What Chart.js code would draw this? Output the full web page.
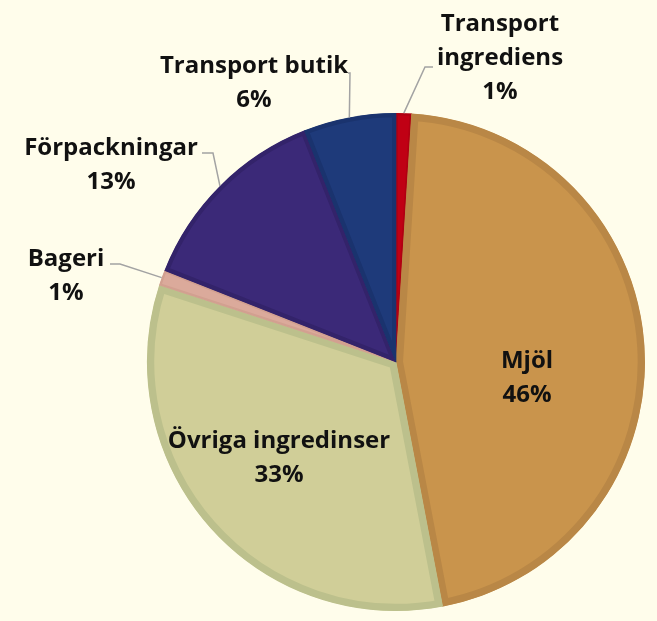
<!DOCTYPE html>
<html>
<head>
<meta charset="utf-8">
<script src="https://cdn.jsdelivr.net/npm/chart.js@4"></script>
<style>
  html, body { margin: 0; padding: 0; background: #fffdeb; }
  #wrap { width: 657px; height: 621px; }
</style>
</head>
<body>
<div id="wrap"><canvas id="c" width="657" height="621"></canvas></div>
<script>
// slices, clockwise from 12 o'clock
const categories = ['Transport ingrediens', 'Mjöl', 'Övriga ingredinser', 'Bageri', 'Förpackningar', 'Transport butik'];
const shares = [1, 46, 33, 1, 13, 6];
const sliceColors = ['#c00014', '#c9944c', '#d0ce98', '#dbaa9b', '#3b2978', '#1e3a7a'];
const edgeColors = ['#b00012', '#b98746', '#bcc08c', '#d2a090', '#33236a', '#1a336e'];

// label lines per slice (name may wrap)
const labelLines = [
  ['Transport', 'ingrediens', '1%'],
  ['Mjöl', '46%'],
  ['Övriga ingredinser', '33%'],
  ['Bageri', '1%'],
  ['Förpackningar', '13%'],
  ['Transport butik', '6%']
];

// where each label sits, relative to the pie centre; elbow = start of leader line
const labelLayout = [
  { x: 104, y: -331, elbow: [[37, -295], [29, -295]] },
  { x: 131, y: 6 },
  { x: -117, y: 86 },
  { x: -330, y: -96, elbow: [[-286, -98], [-276, -98]] },
  { x: -285, y: -207, elbow: [[-194, -209], [-183, -209]] },
  { x: -142, y: -289, elbow: [[-48, -289], [-46, -289]] }
];

const LINE_H = 34;
const FONT = 'bold 24px "Open Sans", "Noto Sans", sans-serif';

const pieLabels = {
  id: 'pieLabels',
  afterDatasetsDraw(chart) {
    const ctx = chart.ctx;
    const meta = chart.getDatasetMeta(0);
    const first = meta.data[0];
    const cx = first.x, cy = first.y, r = first.outerRadius;
    ctx.save();
    meta.data.forEach((arc, i) => {
      const lay = labelLayout[i];
      if (lay.elbow) {
        const mid = (arc.startAngle + arc.endAngle) / 2;
        ctx.strokeStyle = '#a3a3a3';
        ctx.lineWidth = 1.5;
        ctx.beginPath();
        ctx.moveTo(cx + lay.elbow[0][0], cy + lay.elbow[0][1]);
        ctx.lineTo(cx + lay.elbow[1][0], cy + lay.elbow[1][1]);
        ctx.lineTo(cx + Math.cos(mid) * r, cy + Math.sin(mid) * r);
        ctx.stroke();
      }
      ctx.font = FONT;
      ctx.fillStyle = '#111';
      ctx.textAlign = 'center';
      ctx.textBaseline = 'alphabetic';
      labelLines[i].forEach((t, k) => {
        ctx.fillText(t, cx + lay.x, cy + lay.y + k * LINE_H);
      });
    });
    ctx.restore();
  }
};

new Chart(document.getElementById('c'), {
  type: 'pie',
  data: {
    labels: categories,
    datasets: [{
      data: shares,
      backgroundColor: sliceColors,
      borderColor: edgeColors,
      borderWidth: [2, 7, 7, 2, 4, 4],
      borderAlign: 'inner',
      hoverOffset: 0
    }]
  },
  options: {
    responsive: false,
    animation: false,
    radius: 249,
    layout: { padding: { left: 135, right: 0, top: 103, bottom: 0 } },
    plugins: {
      legend: { display: false },
      tooltip: { enabled: false }
    }
  },
  plugins: [pieLabels]
});
</script>
</body>
</html>
